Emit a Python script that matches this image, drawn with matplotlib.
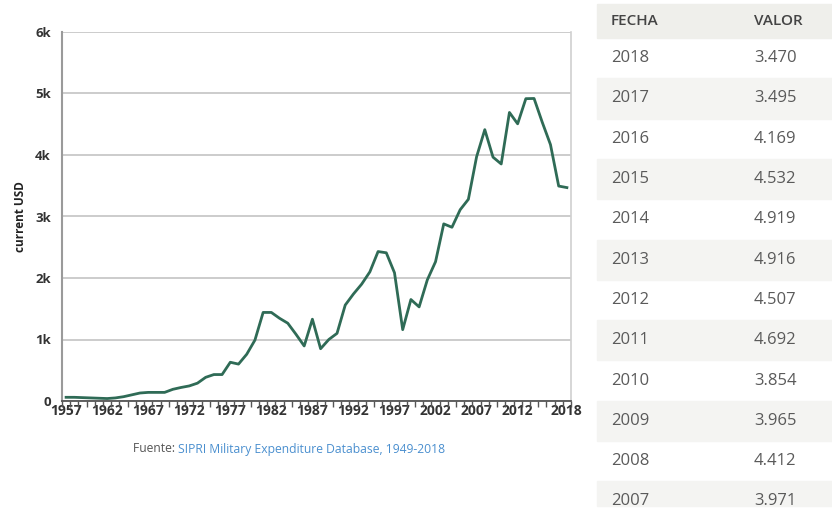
import numpy as np
import matplotlib.pyplot as plt
from matplotlib.patches import Rectangle

plt.rcParams['font.family'] = ['Open Sans', 'DejaVu Sans']

years = list(range(1957, 2019))
values = [60, 60, 55, 50, 45, 40, 50, 70, 100, 130,
          140, 140, 140, 190, 220, 245, 290, 385, 430, 430,
          630, 600, 760, 990, 1440, 1440, 1345, 1265, 1085, 895,
          1330, 850, 1000, 1100, 1560, 1740, 1900, 2100, 2430, 2410,
          2085, 1160, 1650, 1530, 1970, 2265, 2880, 2825, 3110, 3280,
          3971, 4412, 3965, 3854, 4692, 4507, 4916, 4919, 4532, 4169,
          3495, 3470]
label_years = [1957, 1962, 1967, 1972, 1977, 1982, 1987, 1992, 1997, 2002, 2007, 2012, 2018]
y_ticks = [0, 1000, 2000, 3000, 4000, 5000, 6000]
y_labels = ['0', '1k', '2k', '3k', '4k', '5k', '6k']

table_years = ['2018', '2017', '2016', '2015', '2014', '2013',
               '2012', '2011', '2010', '2009', '2008', '2007']
table_values = ['3.470', '3.495', '4.169', '4.532', '4.919', '4.916',
                '4.507', '4.692', '3.854', '3.965', '4.412', '3.971']

W, H = 832, 515
fig = plt.figure(figsize=(W / 100, H / 100), dpi=100)

# chart area
ax = fig.add_axes([62 / W, (H - 401) / H, (571 - 62) / W, (401 - 32) / H])
x = np.arange(len(years))
ax.plot(x, values, color='#2f6b56', lw=2)
ax.set_xlim(-0.5, len(years) - 0.5)
ax.set_ylim(0, 6000)
ax.set_yticks(y_ticks)
ax.set_yticklabels(y_labels, fontsize=9.5, fontweight='bold', color='#333333')
ax.set_xticks([years.index(y) for y in label_years])
ax.set_xticklabels([str(y) for y in label_years], fontsize=10, fontweight='bold', color='#333333')
ax.set_xticks(np.arange(len(years) + 1) - 0.5, minor=True)
ax.tick_params(axis='x', which='major', length=0, pad=2)
ax.tick_params(axis='x', which='minor', length=4, width=1, color='#555555', direction='out')
ax.tick_params(axis='y', length=0, pad=8)
ax.grid(axis='y', color='#c8c8c8', lw=1.3)
ax.set_axisbelow(True)
ax.spines['top'].set_visible(False)
ax.spines['left'].set_color('#9a9a9a')
ax.spines['left'].set_linewidth(1.5)
ax.spines['right'].set_color('#d0d0d0')
ax.spines['right'].set_linewidth(1.2)
ax.spines['bottom'].set_color('#555555')
ax.spines['bottom'].set_linewidth(1.3)
ax.set_ylabel('current USD', fontsize=8.5, fontweight='bold', color='#222222', labelpad=6)

# source line
t = fig.text(133 / W, 1 - 449 / H, 'Fuente: ', fontsize=8.7, color='#555555', va='center')
fig.canvas.draw()
bb = t.get_window_extent()
fig.text(bb.x1 / W, 1 - 449 / H, 'SIPRI Military Expenditure Database, 1949-2018',
         fontsize=8.7, color='#4a8fcf', va='center')

# table on the right
tx0, tx1 = 597, 832
row_h = 40.3
top = 4
fig.patches.append(Rectangle((tx0 / W, 1 - (top + 34) / H), (tx1 - tx0) / W, 34 / H,
                             transform=fig.transFigure, color='#efefeb', zorder=0))
fig.text(611 / W, 1 - (top + 17) / H, 'FECHA', fontsize=11, fontweight='semibold',
         color='#444444', va='center')
fig.text(754 / W, 1 - (top + 17) / H, 'VALOR', fontsize=11, fontweight='semibold',
         color='#444444', va='center')
for i, (yr, val) in enumerate(zip(table_years, table_values)):
    y0 = top + 34 + i * row_h
    if i % 2 == 1:
        hgt = min(row_h, 506 - y0)
        fig.patches.append(Rectangle((tx0 / W, 1 - (y0 + hgt) / H), (tx1 - tx0) / W, hgt / H,
                                     transform=fig.transFigure, color='#f4f4f2', zorder=0))
    fig.text(611 / W, 1 - (y0 + row_h / 2) / H, yr, fontsize=12, color='#5a5a5a', va='center')
    fig.text(754 / W, 1 - (y0 + row_h / 2) / H, val, fontsize=12, color='#5a5a5a', va='center')

fig.savefig('out.png', dpi=100)
